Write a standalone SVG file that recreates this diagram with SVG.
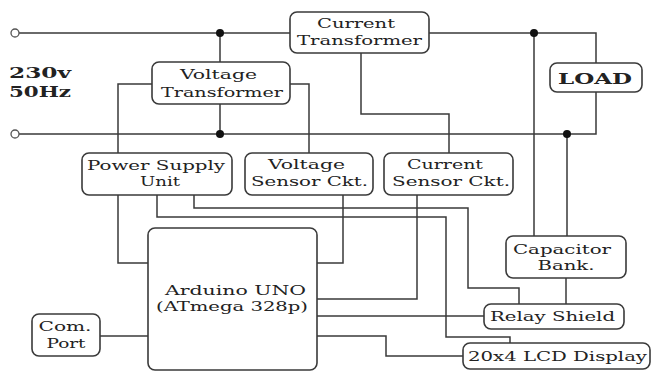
<svg xmlns="http://www.w3.org/2000/svg" width="652" height="372" viewBox="0 0 652 372">
<style>
.box{fill:#fff;stroke:#3a3a3a;stroke-width:1.6}
.w{fill:none;stroke:#3a3a3a;stroke-width:1.5}
.dot{fill:#111}
.oc{fill:#fff;stroke:#555;stroke-width:1.3}
text{font-family:"DejaVu Serif","Liberation Serif",serif;font-size:13.5px;fill:#222;text-anchor:middle}
.b{font-weight:bold;font-size:15px}
</style>
<rect width="652" height="372" fill="#fff"/>
<g id="connectors">
<path class="w" d="M19,33 H290 M429,33 H596 V63"/>
<path class="w" d="M19,134 H596 V92"/>
<path class="w" d="M220,33 V62 M220,104 V134"/>
<path class="w" d="M534,33 V236 M567,134 V236"/>
<path class="w" d="M152,84 H118 V153 M290,84 H309 V153"/>
<path class="w" d="M361,53 V114 H449 V153"/>
<path class="w" d="M118,195 V263 H148"/>
<path class="w" d="M157,195 V217 H446 V337 H510 V343"/>
<path class="w" d="M194,195 V208 H468 V288 H519 V304"/>
<path class="w" d="M343,195 V263 H317"/>
<path class="w" d="M417,195 V299 H317"/>
<path class="w" d="M317,316 H484"/>
<path class="w" d="M317,336 H386 V356 H463"/>
<path class="w" d="M566,278 V304"/>
<path class="w" d="M100,336 H148"/>
<circle class="oc" cx="15" cy="33" r="4"/>
<circle class="oc" cx="15" cy="134" r="4"/>
<circle class="dot" cx="220" cy="33" r="4"/>
<circle class="dot" cx="220" cy="134" r="4"/>
<circle class="dot" cx="534" cy="33" r="4"/>
<circle class="dot" cx="567" cy="134" r="4"/>
</g>
<g id="mains">
<text class="b" x="40" y="78" textLength="62" lengthAdjust="spacingAndGlyphs">230v</text>
<text class="b" x="40" y="97" textLength="62" lengthAdjust="spacingAndGlyphs">50Hz</text>
</g>
<g id="ct">
<rect class="box" x="290" y="12" width="139" height="41" rx="7"/>
<text x="356" y="28" textLength="78" lengthAdjust="spacingAndGlyphs">Current</text>
<text x="359.5" y="45" textLength="125" lengthAdjust="spacingAndGlyphs">Transformer</text>
</g>
<g id="vt">
<rect class="box" x="152" y="62" width="138" height="42" rx="7"/>
<text x="218.5" y="79" textLength="77" lengthAdjust="spacingAndGlyphs">Voltage</text>
<text x="222" y="97" textLength="122" lengthAdjust="spacingAndGlyphs">Transformer</text>
</g>
<g id="load">
<rect class="box" x="550" y="63" width="92" height="29" rx="7"/>
<text class="b" x="595" y="84" textLength="74" lengthAdjust="spacingAndGlyphs">LOAD</text>
</g>
<g id="psu">
<rect class="box" x="82" y="153" width="150" height="42" rx="7"/>
<text x="156" y="170" textLength="138" lengthAdjust="spacingAndGlyphs">Power Supply</text>
<text x="160" y="186" textLength="40" lengthAdjust="spacingAndGlyphs">Unit</text>
</g>
<g id="vsc">
<rect class="box" x="245" y="153" width="128" height="42" rx="7"/>
<text x="306.5" y="169" textLength="77" lengthAdjust="spacingAndGlyphs">Voltage</text>
<text x="309.5" y="186" textLength="117" lengthAdjust="spacingAndGlyphs">Sensor Ckt.</text>
</g>
<g id="csc">
<rect class="box" x="384" y="153" width="129" height="42" rx="7"/>
<text x="445" y="169" textLength="76" lengthAdjust="spacingAndGlyphs">Current</text>
<text x="451" y="186" textLength="118" lengthAdjust="spacingAndGlyphs">Sensor Ckt.</text>
</g>
<g id="arduino">
<rect class="box" x="148" y="228" width="169" height="142" rx="7"/>
<text x="235.5" y="295" textLength="141" lengthAdjust="spacingAndGlyphs">Arduino UNO</text>
<text x="232" y="311" textLength="152" lengthAdjust="spacingAndGlyphs">(ATmega 328p)</text>
</g>
<g id="com">
<rect class="box" x="32" y="314" width="68" height="42" rx="7"/>
<text x="65" y="331" textLength="53" lengthAdjust="spacingAndGlyphs">Com.</text>
<text x="66" y="348" textLength="39" lengthAdjust="spacingAndGlyphs">Port</text>
</g>
<g id="capbank">
<rect class="box" x="506" y="236" width="120" height="42" rx="7"/>
<text x="562" y="254" textLength="98" lengthAdjust="spacingAndGlyphs">Capacitor</text>
<text x="566" y="270" textLength="57" lengthAdjust="spacingAndGlyphs">Bank.</text>
</g>
<g id="relay">
<rect class="box" x="484" y="304" width="140" height="25" rx="7"/>
<text x="552.5" y="321" textLength="125" lengthAdjust="spacingAndGlyphs">Relay Shield</text>
</g>
<g id="lcd">
<rect class="box" x="463" y="343" width="187" height="26" rx="7"/>
<text x="557.5" y="361" textLength="179" lengthAdjust="spacingAndGlyphs">20x4 LCD Display</text>
</g>
</svg>
